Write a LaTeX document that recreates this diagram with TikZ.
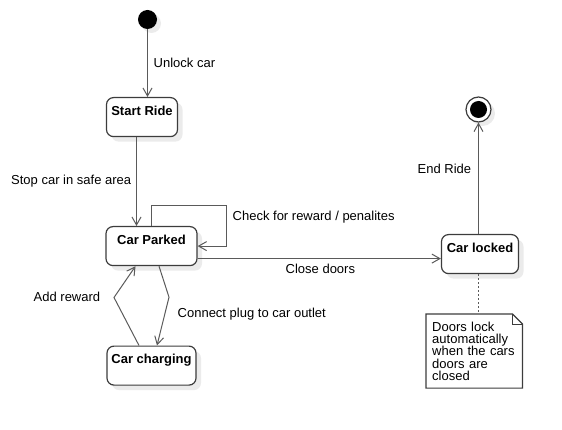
\documentclass[tikz,border=0pt]{standalone}
\usepackage{fontspec}
\setmainfont{Liberation Sans}
\usetikzlibrary{arrows.meta,shadows}
\definecolor{edgegray}{HTML}{5A5A5A}
\definecolor{boxgray}{HTML}{3C3C3C}
\tikzset{
  basenode/.style = {inner sep=0pt, font=\fontsize{13}{15.6}\selectfont},
  statenode/.style = {basenode, rectangle, rounded corners=7pt, draw=boxgray, line width=1.2pt, fill=white, anchor=north, font=\fontsize{13}{15.6}\selectfont\bfseries, inner ysep=1pt, text height=16.5pt, text depth=20.5pt, minimum height=39pt, drop shadow={shadow xshift=5pt, shadow yshift=-5pt, fill=black!8, opacity=1}},
  initnode/.style = {circle, fill=black, inner sep=0pt, minimum size=19pt, drop shadow={shadow xshift=4pt, shadow yshift=-4pt, fill=black!8, opacity=1}},
  finalnode/.style = {circle, draw=boxgray, line width=1.2pt, fill=white, inner sep=0pt, minimum size=25pt, drop shadow={shadow xshift=4pt, shadow yshift=-4pt, fill=black!8, opacity=1}},
  finaldot/.style = {circle, fill=black, inner sep=0pt, minimum size=17pt},
  notenode/.style = {basenode, align=left, anchor=north west, inner xsep=6pt, inner ysep=7.5pt, minimum width=96pt, minimum height=73pt, text width=84pt, font=\fontsize{13}{12.3}\selectfont},
  tlabel/.style = {basenode, anchor=base west},
  trans/.style = {draw=edgegray, line width=1pt, -{Straight Barb[length=8pt, width=9pt]}},
}
\begin{document}
\begin{tikzpicture}[x=1pt, y=-1pt]
\useasboundingbox (0,0) rectangle (562,430);

\node [initnode] (init) at (147.5,19.5) {};
\node [statenode, minimum width=71pt] (start) at (142,97) {Start Ride};
\node [statenode, minimum width=91pt] (parked) at (151.5,226) {Car Parked};
\node [statenode, minimum width=77pt] (locked) at (480,234) {Car locked};
\node [statenode, minimum width=89pt] (charging) at (151.5,345.5) {Car charging};
\node [finalnode] (stop) at (478.5,109.5) {};
\node [finaldot] (stopdot) at (stop) {};

\node [notenode] (note) at (426,314) {Doors lock\\automatically\\when the cars\\doors are\\closed};
\draw [boxgray, line width=1.2pt] (note.south west) -- (note.north west) -- ([xshift=-10pt]note.north east) -- ([yshift=-10pt]note.north east) -- (note.south east) -- cycle;
\draw [boxgray, line width=1pt] ([xshift=-10pt]note.north east) -- ([xshift=-10pt, yshift=-10pt]note.north east) -- ([yshift=-10pt]note.north east);

\draw [trans] (init) -- (init |- start.north);
\draw [trans] ([xshift=-5.5pt]start.south) -- ([xshift=-5.5pt]start.south |- parked.north);
\draw [trans] (parked.north) -- ++(0,-20.5) -| ([xshift=29pt]parked.east) -- (parked.east);
\draw [trans] ([yshift=-12.5pt]parked.east) -- ([yshift=-12.5pt]parked.east -| locked.west);
\draw [trans] (stop |- locked.north) -- (stop.south);
\draw [trans] ([xshift=7.5pt]parked.south) -- ++(10,31) -- ([xshift=5.5pt]charging.north);
\draw [trans] ([xshift=-12.5pt]charging.north) -- ++(-25,-48) -- ([xshift=-16pt]parked.south);
\draw [edgegray, line width=1.2pt, dash pattern=on 2pt off 2pt] (stop |- locked.south) -- (stop |- note.north);

\node [tlabel] (unlock) at (153.5,67.5) {Unlock car};
\node [tlabel] (stopcar) at (11,185) {Stop car in safe area};
\node [tlabel] (check) at (232.5,221) {Check for reward / penalites};
\node [tlabel] (close) at (285.5,274) {Close doors};
\node [tlabel] (plug) at (177.5,317.5) {Connect plug to car outlet};
\node [tlabel] (reward) at (33.5,301.5) {Add reward};
\node [tlabel] (endride) at (417.5,173.3) {End Ride};
\end{tikzpicture}
\end{document}
